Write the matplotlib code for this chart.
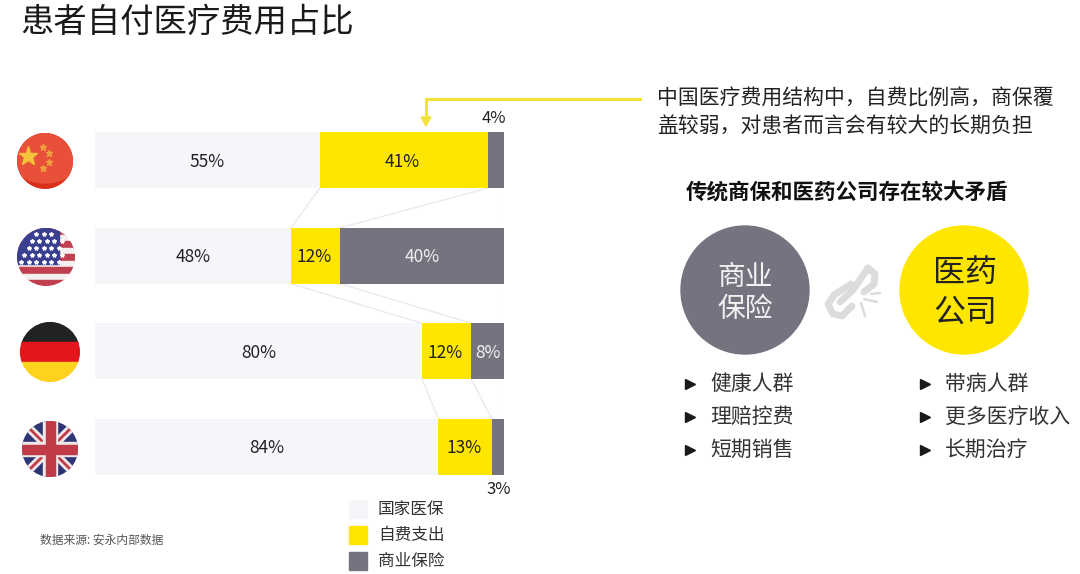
import numpy as np
import matplotlib
matplotlib.use("Agg")
import matplotlib.pyplot as plt
from matplotlib.patches import Circle, Rectangle, Polygon

plt.rcParams['font.family'] = ['Noto Sans CJK SC', 'DejaVu Sans']

countries = ['中国', '美国', '德国', '英国']
public_pct = [55, 48, 80, 84]
self_pct = [41, 12, 12, 13]
private_pct = [4, 40, 8, 3]
legend_labels = ['国家医保', '自费支出', '商业保险']
title = '患者自付医疗费用占比'
note_lines = ['中国医疗费用结构中\uff0c自费比例高\uff0c商保覆', '盖较弱\uff0c对患者而言会有较大的长期负担']
heading = '传统商保和医药公司存在较大矛盾'
left_items = ['健康人群', '理赔控费', '短期销售']
right_items = ['带病人群', '更多医疗收入', '长期治疗']
source = '数据来源: 安永内部数据'

LIGHT, YELLOW, GRAY = '#F6F6FA', '#FFE600', '#747480'
INK = '#222222'
W, H = 1080, 574

fig = plt.figure(figsize=(W / 100, H / 100), dpi=100, facecolor='white')

# Stacked bars on a real percentage scale
top_px, bot_px = 112.5, 494.5
ax = fig.add_axes([94.5 / W, 1 - bot_px / H, 409.5 / W, (bot_px - top_px) / H])
ax.set_xlim(0, 100)
ax.set_ylim(3.5, -0.5)
ax.axis('off')
y = np.arange(len(countries))
pub, slf, prv = map(np.array, (public_pct, self_pct, private_pct))
bh = 0.585
ax.barh(y, pub, height=bh, color=LIGHT, zorder=2)
ax.barh(y, slf, left=pub, height=bh, color=YELLOW, zorder=2)
ax.barh(y, prv, left=pub + slf, height=bh, color=GRAY, zorder=2)

# Connector lines between consecutive bars
for i in range(len(y) - 1):
    for a, b in ((pub[i], pub[i + 1]), (pub[i] + slf[i], pub[i + 1] + slf[i + 1]), (100, 100)):
        ax.plot([a, b], [y[i] + bh / 2, y[i + 1] - bh / 2], color='#E8E8EC', lw=0.9, zorder=1)

for i in y:
    ax.text(pub[i] / 2, i + 0.015, f'{pub[i]}%', ha='center', va='center', fontsize=12.5, color=INK, zorder=3)
    ax.text(pub[i] + slf[i] / 2 - 0.3, i + 0.015, f'{slf[i]}%', ha='center', va='center', fontsize=12.5, color=INK, zorder=3)
    if prv[i] >= 8:
        ax.text(pub[i] + slf[i] + prv[i] / 2, i + 0.015, f'{prv[i]}%', ha='center', va='center',
                fontsize=12.5, color='#F0F0F0', zorder=3)
ax.text(pub[0] + slf[0] + prv[0] / 2 - 0.5, -0.44, f'{prv[0]}%', ha='center', va='center', fontsize=12, color=INK)
ax.text(98.8, 3.45, f'{prv[3]}%', ha='center', va='center', fontsize=12, color=INK)

# Pixel-coordinate overlay for the slide furniture
ov = fig.add_axes([0, 0, 1, 1], facecolor='none')
ov.set_xlim(0, W)
ov.set_ylim(H, 0)
ov.axis('off')

ov.text(20, 22, title, fontsize=24, color='#1A1A1A', ha='left', va='center')
for s, yy in zip(note_lines, (99, 126)):
    ov.text(657, yy, s, fontsize=15, color=INK, ha='left', va='center')
ov.text(686, 193, heading, fontsize=15.5, color='#111111', ha='left', va='center', fontweight='bold')
ov.text(40, 540, source, fontsize=8.5, color='#555555', ha='left', va='center')

# Callout arrow
ov.plot([640, 426, 426], [99, 99, 118], color='#F2E23C', lw=2.2, solid_joinstyle='miter', zorder=4)
ov.add_patch(Polygon([[421, 117], [431, 117], [426, 126]], color='#F2E23C', zorder=4))

# Legend
for (c, lab, yy) in zip((LIGHT, YELLOW, GRAY), legend_labels, (509, 535, 561)):
    ov.add_patch(Rectangle((349, yy - 9), 18, 18, color=c))
    ov.text(378, yy + 0.5, lab, fontsize=12, color='#333333', ha='left', va='center')

# Circles
ov.add_patch(Circle((745, 290), 64, color=GRAY))
ov.add_patch(Circle((964, 290), 64, color=YELLOW))
ov.text(745, 277, '商业', fontsize=20, color='#F2F2F2', ha='center', va='center')
ov.text(745, 309, '保险', fontsize=20, color='#F2F2F2', ha='center', va='center')
ov.text(965, 273, '医药', fontsize=23, color=INK, ha='center', va='center')
ov.text(965, 313, '公司', fontsize=23, color=INK, ha='center', va='center')

# Broken-link icon
link = '#DCDCDC'
ov.plot([851, 834, 828, 833, 842, 852], [284, 295, 304, 314, 316, 306], color=link, lw=5,
        solid_capstyle='round', solid_joinstyle='round')
ov.plot([840, 853, 868, 875, 874, 864], [302, 290, 268, 274, 284, 292], color=link, lw=5,
        solid_capstyle='round', solid_joinstyle='round')
for x0, y0, x1, y1 in ((864, 299, 877, 302), (861, 303, 865, 316), (871, 294, 880, 293)):
    ov.plot([x0, x1], [y0, y1], color=link, lw=1.8, solid_capstyle='round')

# Bullet lists
for x_m, x_t, items in ((690, 710, left_items), (925, 945, right_items)):
    for s, yy in zip(items, (384, 417, 450)):
        ov.plot([x_m], [yy], marker='>', ms=7.5, color='#1A1A1A', ls='none')
        ov.text(x_t, yy, s, fontsize=15, color='#333333', ha='left', va='center')


def disc(cx, cy, r):
    c = Circle((cx, cy), r, transform=ov.transData, fc='none', ec='none')
    ov.add_patch(c)
    return c


# China
cx, cy, r = 45, 161, 28
d = disc(cx, cy, r)
ov.add_patch(Rectangle((cx - r, cy - r), 2 * r, 2 * r, color='#D9301A', zorder=1)).set_clip_path(d)
ov.add_patch(Circle((cx, cy - 26), 48, color='#E8503A', zorder=2)).set_clip_path(d)
ov.plot([cx - 17], [cy - 5], marker='*', ms=14, color='#F5C23A', ls='none', zorder=3)
for dx, dy in ((-2, -14), (4, -8), (4, 1), (-2, 7)):
    ov.plot([cx + dx], [cy + dy], marker='*', ms=5, color='#EFA040', ls='none', zorder=3)

# USA
cx, cy, r = 46, 257, 29
d = disc(cx, cy, r)
for k in range(9):
    col = '#C04050' if k % 2 == 0 else '#F4F0F0'
    ov.add_patch(Rectangle((cx - r, cy - r + k * 6.5), 2 * r, 6.5, color=col, zorder=2)).set_clip_path(d)
ov.add_patch(Rectangle((cx - r, cy - r), 42, 36, color='#3A3F8F', zorder=3)).set_clip_path(d)
for row in range(5):
    for col in range(6):
        sx = cx - 25 + col * 7.5 + (row % 2) * 3
        sy = cy - 23 + row * 7
        if (sx - cx) ** 2 + (sy - cy) ** 2 < (r - 3) ** 2:
            ov.plot([sx], [sy], marker='*', ms=3, color='white', ls='none', zorder=4)

# Germany
cx, cy, r = 50, 352, 30
d = disc(cx, cy, r)
for k, col in enumerate(('#222222', '#E5151C', '#FFD21E')):
    ov.add_patch(Rectangle((cx - r, cy - r + k * 20), 2 * r, 20, color=col, zorder=2)).set_clip_path(d)

# UK
cx, cy, r = 50, 449, 28
d = disc(cx, cy, r)
ov.add_patch(Rectangle((cx - r, cy - r), 2 * r, 2 * r, color='#2E3575', zorder=2)).set_clip_path(d)
for sgn in (1, -1):
    l, = ov.plot([cx - r, cx + r], [cy - sgn * r, cy + sgn * r], color='#F0E8E8', lw=6, zorder=3)
    l.set_clip_path(d)
    l, = ov.plot([cx - r, cx + r], [cy - sgn * r, cy + sgn * r], color='#C03A48', lw=2, zorder=3)
    l.set_clip_path(d)
ov.add_patch(Rectangle((cx - 7, cy - r), 14, 2 * r, color='#F0E8E8', zorder=4)).set_clip_path(d)
ov.add_patch(Rectangle((cx - r, cy - 7), 2 * r, 14, color='#F0E8E8', zorder=4)).set_clip_path(d)
ov.add_patch(Rectangle((cx - 4.5, cy - r), 9, 2 * r, color='#C03A48', zorder=5)).set_clip_path(d)
ov.add_patch(Rectangle((cx - r, cy - 4.5), 2 * r, 9, color='#C03A48', zorder=5)).set_clip_path(d)

fig.savefig('out.png', dpi=100, facecolor='white')
